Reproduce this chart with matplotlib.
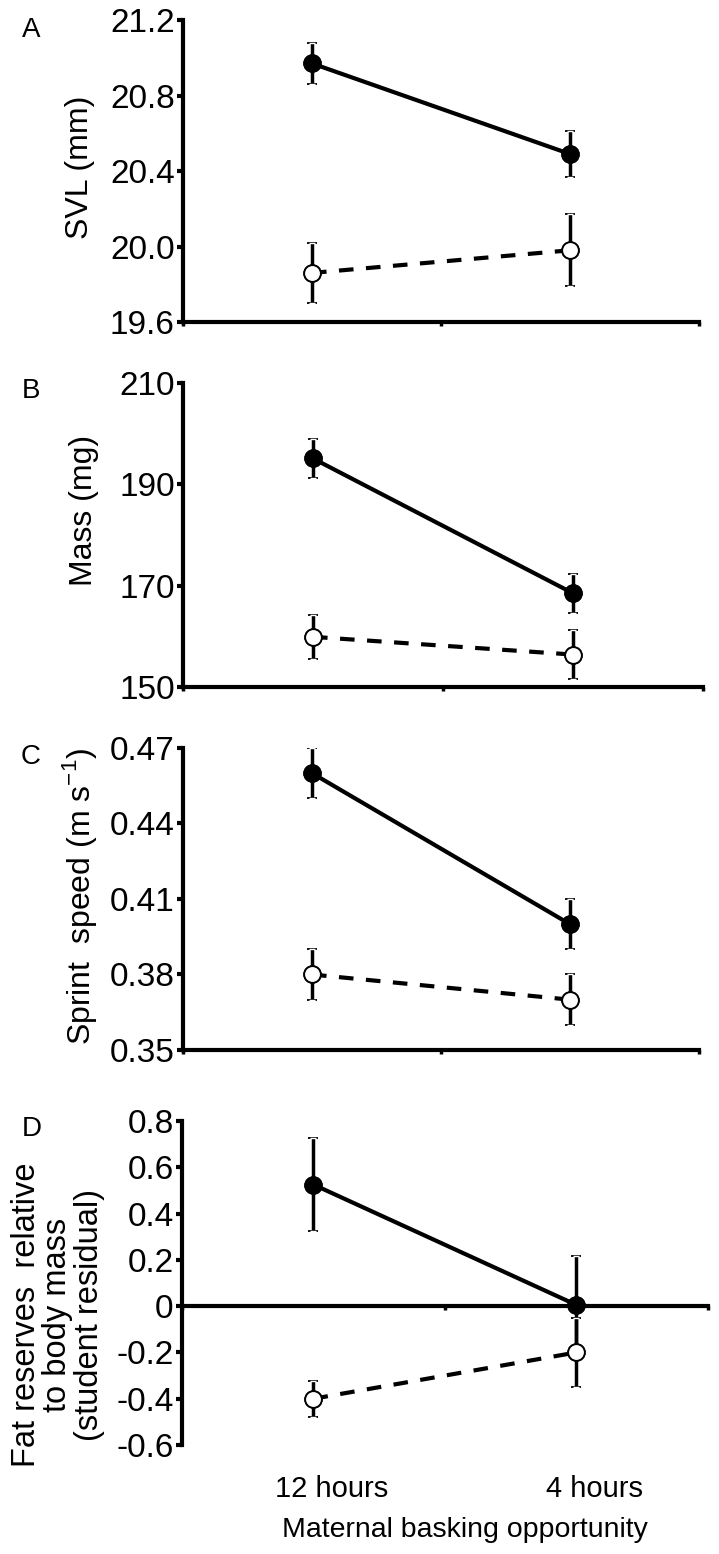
import matplotlib.pyplot as plt
from matplotlib import ticker

plt.rcParams['font.family'] = ['Liberation Sans', 'DejaVu Sans']
plt.rcParams['axes.unicode_minus'] = False

# data (mean +/- SE)
categories = ["12 hours", "4 hours"]
cat_x = [0.5, 1.5]

svl_filled = [20.97, 20.49]
svl_filled_se = [0.11, 0.12]
svl_open = [19.86, 19.98]
svl_open_se = [0.16, 0.19]

mass_filled = [195.1, 168.5]
mass_filled_se = [3.9, 3.9]
mass_open = [159.9, 156.4]
mass_open_se = [4.4, 4.9]

sprint_filled = [0.460, 0.400]
sprint_filled_se = [0.010, 0.010]
sprint_open = [0.380, 0.370]
sprint_open_se = [0.010, 0.010]

fat_filled = [0.525, 0.005]
fat_filled_se = [0.20, 0.21]
fat_open = [-0.40, -0.20]
fat_open_se = [0.077, 0.15]

svl_ticks = [19.6, 20.0, 20.4, 20.8, 21.2]
mass_ticks = [150, 170, 190, 210]
sprint_ticks = [0.35, 0.38, 0.41, 0.44, 0.47]
fat_ticks = [-0.6, -0.4, -0.2, 0, 0.2, 0.4, 0.6, 0.8]
fat_ticklabels = ['-0.6', '-0.4', '-0.2', '0', '0.2', '0.4', '0.6', '0.8']

W, H = 719, 1554
fig = plt.figure(figsize=(W / 100, H / 100), dpi=100)


def make_ax(left, top, right, bottom):
    return fig.add_axes([left / W, 1 - bottom / H, (right - left) / W, (bottom - top) / H])


def add_series(ax, y, se, style, face, z):
    eb = ax.errorbar(cat_x, y, yerr=se, color='k', lw=3, linestyle=style,
                     marker='o', ms=12, mfc=face, mec='k', mew=1.3,
                     elinewidth=2.5, capsize=3.5, capthick=3.5, zorder=z)
    if style == '--':
        eb.lines[0].set_dashes((3.5, 3))
    # hollow look of the caps
    ax.errorbar(cat_x, y, yerr=se, fmt='none', ecolor='white', elinewidth=0,
                capsize=2.2, capthick=1.0, zorder=z + 0.1)
    ax.plot(cat_x, y, linestyle='none', marker='o', ms=12, mfc=face, mec='k',
            mew=1.3, zorder=z + 0.2)


def draw_panel(ax, filled, filled_se, opened, opened_se, yticks, fmt):
    add_series(ax, filled, filled_se, '-', 'k', 3)
    add_series(ax, opened, opened_se, '--', 'white', 4)
    ax.set_xlim(0, 2)
    ax.set_ylim(yticks[0], yticks[-1])
    ax.set_yticks(yticks)
    ax.yaxis.set_major_formatter(ticker.FormatStrFormatter(fmt))
    ax.set_xticks([0, 1, 2])
    ax.set_xticklabels([])
    for s in ['top', 'right']:
        ax.spines[s].set_visible(False)
    for s in ['left', 'bottom']:
        ax.spines[s].set_linewidth(3)
        ax.spines[s].set_zorder(1)
    ax.tick_params(axis='y', direction='out', length=4, width=3, labelsize=24, pad=2)
    ax.tick_params(axis='x', direction='out', length=3, width=2.5)


axA = make_ax(183, 20, 699, 322)
draw_panel(axA, svl_filled, svl_filled_se, svl_open, svl_open_se, svl_ticks, '%.1f')

axB = make_ax(183, 383, 703, 687)
draw_panel(axB, mass_filled, mass_filled_se, mass_open, mass_open_se, mass_ticks, '%d')

axC = make_ax(183, 748, 699, 1050)
draw_panel(axC, sprint_filled, sprint_filled_se, sprint_open, sprint_open_se, sprint_ticks, '%.2f')

axD = make_ax(182, 1121, 708, 1445)
draw_panel(axD, fat_filled, fat_filled_se, fat_open, fat_open_se, fat_ticks, '%.1f')
axD.spines['bottom'].set_position(('data', 0))
axD.set_yticklabels(fat_ticklabels)

# category labels and x title
for x, lab in zip(cat_x, categories):
    axD.text(x + 0.07, -0.135, lab, transform=axD.get_xaxis_transform(),
             ha='center', va='center', fontsize=21)
fig.text(465 / W, 1 - 1530 / H, "Maternal basking opportunity", ha='center',
         va='center', fontsize=20.5)

# y labels
fig.text(80 / W, 1 - 167 / H, "SVL (mm)", rotation=90, ha='center', va='center', fontsize=23)
fig.text(84 / W, 1 - 510 / H, "Mass (mg)", rotation=90, ha='center', va='center', fontsize=23)
fig.text(80 / W, 1 - 896 / H, "Sprint  speed (m s$^{\\mathregular{-1}}$)", rotation=90,
         ha='center', va='center', fontsize=23)
fig.text(58 / W, 1 - 1315 / H, "Fat reserves  relative\nto body mass\n(student residual)",
         rotation=90, ha='center', va='center', fontsize=23.5, linespacing=1.02)

# panel letters
for lab, x, y in [("A", 31, 30), ("B", 31, 391), ("C", 31, 757), ("D", 32, 1129)]:
    fig.text(x / W, 1 - y / H, lab, ha='center', va='center', fontsize=20)

plt.savefig("out.png", dpi=100)
plt.close('all')
